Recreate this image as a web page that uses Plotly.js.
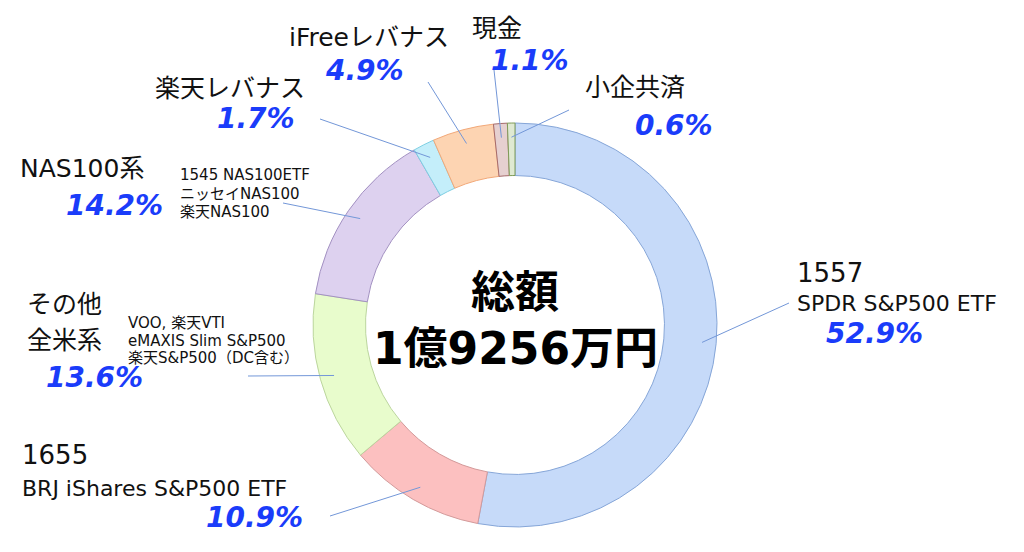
<!DOCTYPE html>
<html>
<head>
<meta charset="utf-8">
<script src="https://cdn.plot.ly/plotly-3.0.1.min.js"></script>
<style>html,body{margin:0;padding:0;background:#fff;}#chart{width:1024px;height:552px;}</style>
</head>
<body>
<div id="chart"></div>
<script>
// ---- data ----
const categories = ['1557 SPDR S&P500 ETF', '1655 BRJ iShares S&P500 ETF', 'その他全米系', 'NAS100系', '楽天レバナス', 'iFreeレバナス', '現金', '小企共済'];
const shares = [52.9, 10.9, 13.6, 14.2, 1.7, 4.9, 1.1, 0.6];
const titleLines = [['1557', 'SPDR S&P500 ETF'], ['1655', 'BRJ iShares S&P500 ETF'], ['その他', '全米系'], ['NAS100系'], ['楽天レバナス'], ['iFreeレバナス'], ['現金'], ['小企共済']];
const detailLines = [[], [], ['VOO, 楽天VTI', 'eMAXIS Slim S&P500', '楽天S&P500（DC含む）'], ['1545 NAS100ETF', 'ニッセイNAS100', '楽天NAS100'], [], [], [], []];
const centerTitle = '総額';
const centerTotal = '1億9256万円';

// ---- styles / layout ----
const fillColors = ['#c6daf9', '#fcc0c0', '#e8fccc', '#ddd1ef', '#c4eefa', '#fdd4b2', '#e6d0d0', '#dfe9d2'];
const edgeColors = ['#86a6d8', '#d39a9a', '#bcd69e', '#a391c2', '#7dcfe3', '#f2a878', '#a56a6a', '#7f9c58'];
const W = 1024, H = 552, CX = 515, CY = 325, R = 202;
const FONT = 'DejaVu Sans, Noto Sans CJK JP, sans-serif';
const BLUE = '#1a3cfa';
const labelPos = [
  {title: [[795, 273, 'left', 26], [795, 303, 'left', 22]], pct: [874, 333, 'center'], line: [789, 303]},
  {title: [[20, 455, 'left', 26], [20, 488, 'left', 22]], pct: [305, 517, 'right'], line: [330, 516]},
  {title: [[25, 304, 'left', 25], [25, 340, 'left', 25]], detail: [126, 323, 17.5], pct: [94, 377, 'center'], line: [248, 376]},
  {title: [[18, 168, 'left', 25]], detail: [178, 175, 18.5], pct: [165, 205, 'right'], line: [283, 203]},
  {title: [[153, 88, 'left', 25]], pct: [297, 118, 'right'], line: [320, 119]},
  {title: [[287, 38, 'left', 25]], pct: [364, 70, 'center'], line: [428, 82]},
  {title: [[470, 28, 'left', 25]], pct: [530, 60, 'center'], line: [494, 70]},
  {title: [[583, 87, 'left', 25]], pct: [674, 125, 'center'], line: [569, 110]}
];

const px = x => x / W;
const py = y => 1 - y / H;

const annotations = [];
const shapes = [];
const total = shares.reduce((a, b) => a + b, 0);
let cum = 0;
shares.forEach((v, i) => {
  const mid = (cum + v / 2) / total * 2 * Math.PI;
  cum += v;
  const p = labelPos[i];
  p.title.forEach((t, k) => {
    annotations.push({text: titleLines[i][k], x: px(t[0]), y: py(t[1]), xref: 'paper', yref: 'paper',
      xanchor: t[2], yanchor: 'middle', showarrow: false, font: {family: FONT, size: t[3], color: '#111'}});
  });
  if (p.detail) {
    detailLines[i].forEach((d, k) => {
      annotations.push({text: d, x: px(p.detail[0]), y: py(p.detail[1] + k * p.detail[2]), xref: 'paper', yref: 'paper',
        xanchor: 'left', yanchor: 'middle', showarrow: false, font: {family: FONT, size: 15, color: '#111'}});
    });
  }
  annotations.push({text: '<b><i>' + v.toFixed(1) + '%</i></b>', x: px(p.pct[0]), y: py(p.pct[1]), xref: 'paper', yref: 'paper',
    xanchor: p.pct[2], yanchor: 'middle', showarrow: false, font: {family: FONT, size: 28, color: BLUE}});
  const r = R * 0.93;
  const ax = CX + r * Math.sin(mid), ay = CY - r * Math.cos(mid);
  shapes.push({type: 'line', xref: 'paper', yref: 'paper', x0: px(p.line[0]), y0: py(p.line[1]), x1: px(ax), y1: py(ay),
    line: {color: '#7397d8', width: 1}});
});

annotations.push({text: '<b>' + centerTitle + '</b>', x: px(CX), y: py(292), xref: 'paper', yref: 'paper',
  xanchor: 'center', yanchor: 'middle', showarrow: false, font: {family: FONT, size: 44, color: '#000'}});
annotations.push({text: '<b>' + centerTotal + '</b>', x: px(CX), y: py(348), xref: 'paper', yref: 'paper',
  xanchor: 'center', yanchor: 'middle', showarrow: false, font: {family: FONT, size: 44, color: '#000'}});

const trace = {
  type: 'pie', labels: categories, values: shares, hole: 0.74, sort: false, direction: 'clockwise', rotation: 0,
  textinfo: 'none', hoverinfo: 'skip',
  marker: {colors: fillColors, line: {color: edgeColors, width: 1}},
  domain: {x: [px(CX - R), px(CX + R)], y: [py(CY + R), py(CY - R)]}
};

Plotly.newPlot('chart', [trace], {
  width: W, height: H, margin: {l: 0, r: 0, t: 0, b: 0}, showlegend: false,
  paper_bgcolor: '#fff', plot_bgcolor: '#fff', annotations: annotations, shapes: shapes
}, {staticPlot: true});
</script>
</body>
</html>
